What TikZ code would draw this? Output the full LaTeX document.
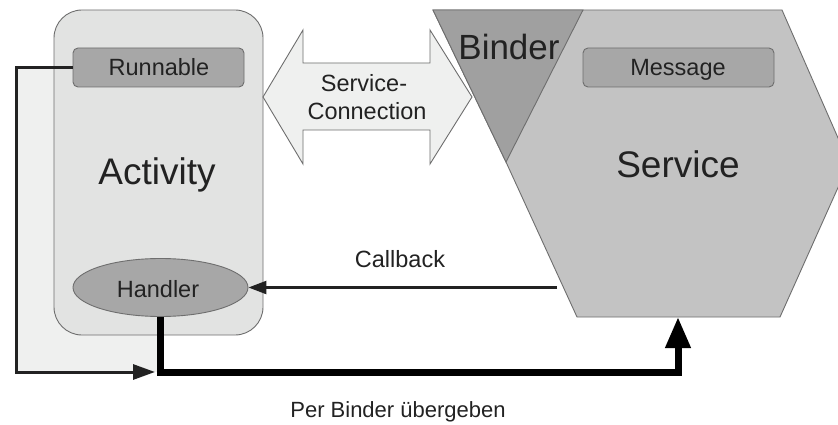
\documentclass[tikz,border=0pt]{standalone}
\usepackage{fontspec}
\setmainfont{Liberation Sans}
\usetikzlibrary{arrows.meta,shapes.geometric}

\definecolor{ink}{HTML}{222222}
\definecolor{edge}{HTML}{6E6E6E}
\definecolor{actfill}{HTML}{E2E3E2}
\definecolor{loopfill}{HTML}{EFF0EF}
\definecolor{boxfill}{HTML}{A7A7A7}
\definecolor{binderfill}{HTML}{A0A0A0}
\definecolor{servfill}{HTML}{C3C3C3}
\definecolor{connfill}{HTML}{EFF0EF}

\tikzset{
  small/.style={font=\fontsize{23.5}{27}\selectfont, text=ink, inner sep=0pt, anchor=base},
  big/.style={font=\fontsize{37}{41}\selectfont, text=ink, inner sep=0pt, anchor=base},
  innerbox/.style={draw=edge, fill=boxfill, rounded corners=5pt, line width=0.9pt},
  thinflow/.style={draw=ink, line width=3pt},
  thickflow/.style={draw=black, line width=7pt},
}

\begin{document}
\begin{tikzpicture}[x=1pt,y=-1pt]
\useasboundingbox (0,0) rectangle (838,425);
\fill[white] (0,0) rectangle (838,425);

% light backdrop inside the runnable loop
\fill[loopfill] (16.5,67.5) rectangle (158,372);

% Activity container
\node[draw=edge, fill=actfill, rounded corners=28pt, line width=0.9pt,
      minimum width=209pt, minimum height=325pt, inner sep=0pt]
      (activity) at (158.5,172.5) {};
\node[innerbox, minimum width=171pt, minimum height=39pt, inner sep=0pt]
      (runnable) at (158.5,67.5) {};
\node[small] (runnableLabel) at (159,75.5) {Runnable};
\node[big] (activityLabel) at (157,185) {Activity};
\node[ellipse, draw=edge, fill=boxfill, line width=0.9pt,
      minimum width=175pt, minimum height=58pt, inner sep=0pt]
      (handler) at (160.5,287.5) {};
\node[small] (handlerLabel) at (158,297) {Handler};

% Service-Connection double arrow
\coordinate (cL) at (263,97);
\coordinate (cR) at (472,97);
\filldraw[draw=edge, fill=connfill, line width=0.9pt]
  (cL) -- (303,30) -- (303,63) -- (430,63) -- (430,30) -- (cR)
  -- (430,164) -- (430,130) -- (303,130) -- (303,164) -- cycle;
\node[small] (conn1) at (364,92) {Service-};
\node[small] (conn2) at (367,120) {Connection};

% Service hexagon with Binder wedge
\begin{scope}
  \clip (0,0) rectangle (838,425);
  \filldraw[draw=edge, fill=servfill, line width=0.9pt]
    (433,10) -- (782,10) -- (849,163) -- (780,317) -- (577,317) -- (506,162) -- cycle;
  \filldraw[draw=edge, fill=binderfill, line width=0.9pt]
    (433,10) -- (583,10) -- (506,162) -- cycle;
\end{scope}
\coordinate (servBottom) at (678,317);
\node[big, font=\fontsize{35}{39}\selectfont] (binderLabel) at (509,60) {Binder};
\node[innerbox, minimum width=191pt, minimum height=39pt, inner sep=0pt]
      (message) at (678.5,67.5) {};
\node[small] (messageLabel) at (678,75.5) {Message};
\node[big] (serviceLabel) at (678,177) {Service};

% Callback
\coordinate (cbStart) at (557,287.5);
\draw[ink, line width=2.4pt, -{Triangle[length=18pt,width=13pt]}] (cbStart) -- (handler.east);
\node[small] (callbackLabel) at (400,267) {Callback};

% Runnable posted back into the handler path
\coordinate (joint) at (155,372);
\draw[thinflow, -{Triangle[length=22pt,width=15pt]}]
  (runnable.west) -- (16.5,67.5) |- (joint);

% Message handed over via the binder
\draw[thickflow, line join=miter, -{Triangle[length=31pt,width=24pt]}]
  (handler.south) |- (678,372) -- (servBottom);
\node[small, font=\fontsize{22}{26}\selectfont] (perBinderLabel) at (398,417) {Per Binder übergeben};
\end{tikzpicture}
\end{document}
